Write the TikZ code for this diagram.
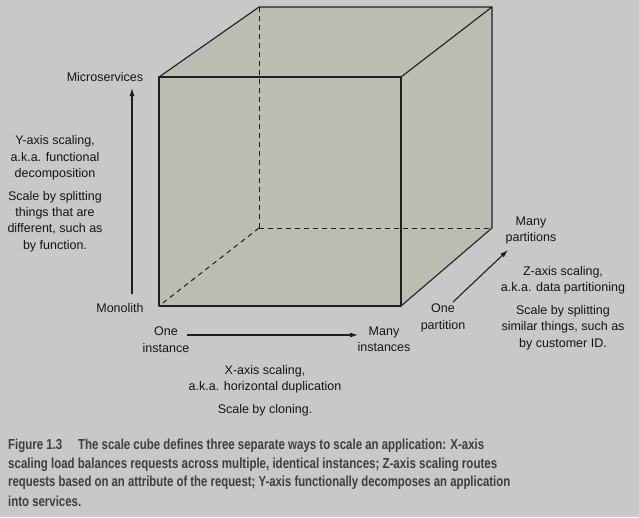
\documentclass[tikz,border=0pt]{standalone}
\usepackage{fontspec}
\setmainfont{Liberation Sans}
\newfontfamily\capfont[FakeStretch=0.8]{Liberation Sans Bold}
\usetikzlibrary{arrows.meta}
\definecolor{bg}{RGB}{200,200,200}
\definecolor{cubefill}{RGB}{187,189,178}
\definecolor{edge}{RGB}{30,30,30}
\definecolor{captxt}{RGB}{62,62,62}
\definecolor{lbl}{RGB}{20,20,20}
\newsavebox\capbox
\newcommand\capfit[2]{\sbox\capbox{#2}\scalebox{\fpeval{#1/(\the\wd\capbox)}}[1]{\usebox\capbox}}
\tikzset{
  lab/.style={inner sep=0pt, align=center, text=lbl, font=\fontsize{12.5}{16.4}\selectfont},
  capline/.style={inner sep=0pt, anchor=west, text=captxt, font=\capfont\fontsize{14.5}{18}\selectfont},
  cubeedge/.style={draw=edge, line width=1.1pt, line join=round},
  hidden/.style={draw=edge, line width=1pt, dash pattern=on 5pt off 4pt},
  axis/.style={draw=edge, line width=1.1pt, -{Latex[length=8pt,width=5pt]}}
}
\begin{document}
\begin{tikzpicture}[x=1pt,y=-1pt]
\fill[bg] (0,0) rectangle (639,517);
\useasboundingbox (0,0) rectangle (639,517);
% cube corners
\coordinate (fbl) at (159,306);
\coordinate (fbr) at (401,306);
\coordinate (ftl) at (159,77);
\coordinate (ftr) at (401,77);
\coordinate (bbl) at (259,228);
\coordinate (bbr) at (492,228);
\coordinate (btl) at (259,7);
\coordinate (btr) at (492,7);
% silhouette fill
\fill[cubefill] (fbl) -- (ftl) -- (btl) -- (btr) -- (bbr) -- (fbr) -- cycle;
% hidden edges
\draw[hidden] (bbl) -- (btl);
\draw[hidden] (bbl) -- (bbr);
\draw[hidden] (bbl) -- (fbl);
% visible edges
\draw[cubeedge] (fbl) rectangle (ftr);
\draw[cubeedge] (ftl) -- (btl) -- (btr) -- (ftr);
\draw[cubeedge] (btr) -- (bbr) -- (fbr);
% axes
\coordinate (ys) at (132,294);
\coordinate (ye) at (132,88);
\coordinate (xs) at (187,335);
\coordinate (xe) at (358,335);
\coordinate (zs) at (453,302);
\coordinate (ze) at (508,250);
\draw[axis] (ys) -- (ye);
\draw[axis] (xs) -- (xe);
\draw[axis] (zs) -- (ze);
% labels
\node[lab] (micro) at (105,77) {Microservices};
\node[lab] (mono) at (120,308) {Monolith};
\node[lab] (ytxt1) at (55,158) {Y-axis scaling,\\a.k.a. functional\\decomposition};
\node[lab] (ytxt2) at (55,221.5) {Scale by splitting\\things that are\\different, such as\\by function.};
\node[lab] (onei) at (166,339.5) {One\\instance};
\node[lab] (manyi) at (384,339.5) {Many\\instances};
\node[lab] (onep) at (443,318) {One\\partition};
\node[lab] (manyp) at (531,230.5) {Many\\partitions};
\node[lab] (ztxt1) at (563,280) {Z-axis scaling,\\a.k.a. data partitioning};
\node[lab] (ztxt2) at (563,327.5) {Scale by splitting\\similar things, such as\\by customer ID.};
\node[lab] (xtxt1) at (265,379.5) {X-axis scaling,\\a.k.a. horizontal duplication};
\node[lab] (xtxt2) at (265,410) {Scale by cloning.};
% caption
\node[capline] (cap1) at (8,446) {\capfit{476}{Figure 1.3\hspace{1.1em}The scale cube defines three separate ways to scale an application: X-axis}};
\node[capline] (cap2) at (8,464.5) {\capfit{489}{scaling load balances requests across multiple, identical instances; Z-axis scaling routes}};
\node[capline] (cap3) at (8,483) {\capfit{502}{requests based on an attribute of the request; Y-axis functionally decomposes an application}};
\node[capline] (cap4) at (8,501) {\capfit{73}{into services.}};
\end{tikzpicture}
\end{document}
